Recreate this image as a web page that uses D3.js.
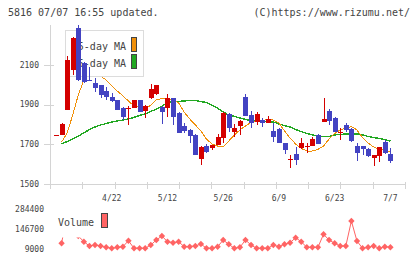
<!DOCTYPE html>
<html>
<head>
<meta charset="utf-8">
<title>5816 daily chart</title>
<script src="https://d3js.org/d3.v7.min.js"></script>
<style>
  body { margin: 0; background: #fff; }
  text { font-family: "DejaVu Sans Mono", monospace; fill: #444; }
  .axis { stroke: #d4d4d4; stroke-width: 1; shape-rendering: crispEdges; }
</style>
</head>
<body>
<div id="chart"></div>
<script>

// candles (index 0 .. 60), prices in yen
var opens  = [1747,1747,1872,2074,2285,2110,2023,2008,1998,1968,1938,1923,1882,1880,1882,1923,1867,1933,1953,1887,1882,1933,1857,1792,1772,1747,1626,1691,1681,1696,1731,1852,1762,1792,1938,1847,1812,1822,1807,1767,1777,1706,1624,1651,1681,1689,1691,1747,1812,1867,1832,1760,1797,1777,1691,1691,1676,1631,1641,1711,1651];
var highs  = [1747,1805,2145,2238,2300,2115,2090,2033,2000,1988,1958,1925,1885,1890,1925,1925,1895,2003,2000,1890,1953,1935,1860,1807,1775,1750,1690,1701,1698,1752,1860,1855,1802,1820,1953,1867,1862,1832,1842,1807,1782,1708,1646,1686,1731,1706,1736,1750,1933,1877,1837,1782,1807,1780,1706,1693,1681,1648,1688,1721,1681];
var lows   = [1747,1745,1872,2048,2018,2010,2020,1963,1933,1923,1913,1870,1822,1797,1880,1860,1832,1928,1950,1802,1837,1797,1755,1757,1706,1645,1596,1656,1671,1694,1706,1762,1736,1747,1840,1782,1797,1787,1805,1711,1704,1651,1580,1596,1678,1656,1690,1700,1810,1797,1760,1721,1762,1713,1616,1646,1638,1591,1611,1651,1606];
var closes = [1747,1802,2124,2235,2023,2013,2020,1983,1948,1938,1918,1872,1837,1884,1923,1862,1892,1978,1998,1862,1933,1837,1757,1767,1741,1646,1686,1661,1696,1736,1857,1782,1782,1817,1842,1807,1852,1807,1827,1736,1706,1671,1628,1621,1706,1692,1726,1701,1827,1817,1762,1764,1772,1716,1656,1676,1641,1646,1686,1656,1616];

var ma5  = [null,1711,1757,1847,1948,2023,2074,2064,2043,2023,1993,1968,1943,1918,1892,1887,1877,1897,1923,1930,1930,1925,1908,1862,1827,1797,1767,1726,1701,1691,1686,1716,1747,1772,1792,1810,1814,1819,1825,1822,1807,1767,1731,1701,1679,1666,1666,1674,1691,1726,1754,1772,1782,1789,1772,1734,1706,1686,1676,1671,1661];
var ma25 = [null,1701,1714,1726,1741,1757,1774,1787,1797,1804,1812,1817,1822,1827,1835,1845,1852,1865,1877,1890,1910,1915,1915,1918,1920,1920,1915,1910,1897,1882,1862,1847,1840,1832,1825,1819,1817,1817,1814,1812,1802,1794,1787,1774,1764,1754,1747,1741,1739,1739,1747,1749,1752,1752,1752,1747,1739,1734,1729,1724,1716];

var volumes = [null,48500,250000,180000,99200,59600,29800,36700,29800,20800,13900,20800,25000,66600,13900,13900,13900,36700,71400,99200,59600,52700,59600,25000,25000,29800,43700,13900,13900,25000,71400,41600,13900,20800,71400,36700,13900,13900,13900,36700,25000,41600,52700,87400,59600,20800,20800,20800,111000,71400,48500,29800,29800,203200,64500,13900,20800,29800,13900,25000,20800];

var dateTickIndex = [10, 20, 30, 40, 50, 60];
var dateTickLabels = ["4/22", "5/12", "5/26", "6/9", "6/23", "7/7"];
var priceTicks = [1500, 1700, 1900, 2100];
var volumeTicks = [9000, 146700, 284400];

var width = 420, height = 259;

var svg = d3.select("#chart")
  .append("svg")
    .attr("width", width)
    .attr("height", height);

var x = d3.scaleLinear().domain([0, 60]).range([56, 390.4]);
var y = d3.scaleLinear().domain([1500, 2300]).range([184, 25]);
var yVol = d3.scaleLinear().domain([9000, 284400]).range([249, 209.3]);
var frame = d3.scaleLinear().domain([0, 11]).range([50, 405]);

var red = "#d40000", blue = "#4343c2", volColor = "#ff6464";

// header
svg.append("text").attr("x", 8).attr("y", 16)
  .style("font-size", "10px").text("5816 07/07 16:55 updated.");
svg.append("text").attr("x", 410).attr("y", 16).attr("text-anchor", "end")
  .style("font-size", "10px").text("(C)https://www.rizumu.net/");

// axes
svg.append("line").attr("class", "axis")
  .attr("x1", 50.5).attr("x2", 50.5).attr("y1", 25).attr("y2", 189);
svg.append("line").attr("class", "axis")
  .attr("x1", 50).attr("x2", 405).attr("y1", 184.5).attr("y2", 184.5);

svg.append("g").selectAll("line")
  .data(d3.range(12))
  .enter().append("line")
    .attr("class", "axis")
    .attr("x1", (d) => Math.round(frame(d)) + 0.5)
    .attr("x2", (d) => Math.round(frame(d)) + 0.5)
    .attr("y1", 182).attr("y2", 189);

var pt = svg.append("g");
pt.selectAll("line")
  .data(priceTicks)
  .enter().append("line")
    .attr("class", "axis")
    .attr("x1", 44).attr("x2", 54)
    .attr("y1", (d) => Math.round(y(d)) + 0.5)
    .attr("y2", (d) => Math.round(y(d)) + 0.5);
pt.selectAll("text")
  .data(priceTicks)
  .enter().append("text")
    .attr("x", 39).attr("y", (d) => y(d))
    .attr("dy", "0.35em")
    .attr("text-anchor", "end")
    .style("font-size", "8px")
    .text((d) => d);

svg.append("g").selectAll("text")
  .data(dateTickIndex)
  .enter().append("text")
    .attr("x", (d) => x(d))
    .attr("y", 201)
    .attr("text-anchor", "middle")
    .style("font-size", "8px")
    .text((d, i) => dateTickLabels[i]);

svg.append("g").selectAll("text")
  .data(volumeTicks)
  .enter().append("text")
    .attr("x", 44).attr("y", (d) => yVol(d))
    .attr("dy", "0.35em")
    .attr("text-anchor", "end")
    .style("font-size", "8px")
    .text((d) => d);

// moving averages
var maLine = (arr) => d3.line()
  .defined((d) => d != null)
  .x((d, i) => x(i))
  .y((d) => y(d))(arr);

svg.append("path")
  .attr("d", maLine(ma25))
  .attr("fill", "none")
  .attr("stroke", "#22a822")
  .attr("stroke-width", 1.4)
  .style("shape-rendering", "crispEdges");

svg.append("path")
  .attr("d", maLine(ma5))
  .attr("fill", "none")
  .attr("stroke", "#f0900a")
  .attr("stroke-width", 1)
  .style("shape-rendering", "crispEdges");

// price legend (candles are drawn over it)
var lg = svg.append("g");
lg.append("rect")
  .attr("x", 65.5).attr("y", 30.5).attr("width", 78).attr("height", 46)
  .attr("fill", "#fff").attr("stroke", "#dcdcdc");
lg.append("text").attr("x", 126).attr("y", 46).attr("dy", "0.35em")
  .attr("text-anchor", "end").style("font-size", "10px").text("5-day MA");
lg.append("text").attr("x", 126).attr("y", 63).attr("dy", "0.35em")
  .attr("text-anchor", "end").style("font-size", "10px").text("25-day MA");
lg.append("rect")
  .attr("x", 131.5).attr("y", 37.5).attr("width", 5).attr("height", 14)
  .attr("fill", "#f0900a").attr("stroke", "#444");
lg.append("rect")
  .attr("x", 131.5).attr("y", 54.5).attr("width", 5).attr("height", 14)
  .attr("fill", "#22a822").attr("stroke", "#444");

// candles
var candles = svg.append("g")
  .selectAll("g")
  .data(d3.range(opens.length))
  .enter().append("g");

candles.append("line")
  .attr("x1", (i) => Math.round(x(i)) + 0.5)
  .attr("x2", (i) => Math.round(x(i)) + 0.5)
  .attr("y1", (i) => y(highs[i]))
  .attr("y2", (i) => y(lows[i]))
  .attr("stroke", (i) => closes[i] >= opens[i] ? red : blue)
  .style("shape-rendering", "crispEdges");

candles.append("rect")
  .attr("x", (i) => Math.round(x(i)) - 2)
  .attr("width", 5)
  .attr("y", (i) => y(Math.max(opens[i], closes[i])))
  .attr("height", (i) => Math.max(1, Math.abs(y(opens[i]) - y(closes[i]))))
  .attr("fill", (i) => closes[i] >= opens[i] ? red : blue)
  .style("shape-rendering", "crispEdges");

// volume
var volLine = d3.line()
  .defined((d) => d != null)
  .x((d, i) => x(i))
  .y((d) => yVol(d));

svg.append("path")
  .attr("d", volLine(volumes))
  .attr("fill", "none")
  .attr("stroke", volColor)
  .attr("stroke-width", 1);

svg.append("g").selectAll("path")
  .data(volumes.map((v, i) => [i, v]).filter((d) => d[1] != null))
  .enter().append("path")
    .attr("transform", (d) => "translate(" + x(d[0]) + "," + yVol(d[1]) + ")")
    .attr("d", "M0,-3.2L3.2,0L0,3.2L-3.2,0Z")
    .attr("fill", volColor);

var vl = svg.append("g");
vl.append("rect")
  .attr("x", 55).attr("y", 205).attr("width", 58).attr("height", 32.5)
  .attr("fill", "#fff");
vl.append("text").attr("x", 58).attr("y", 222).attr("dy", "0.35em")
  .style("font-size", "10px").text("Volume");
vl.append("rect")
  .attr("x", 101.5).attr("y", 213.5).attr("width", 6).attr("height", 14)
  .attr("fill", volColor).attr("stroke", "#444");

</script>
</body>
</html>
